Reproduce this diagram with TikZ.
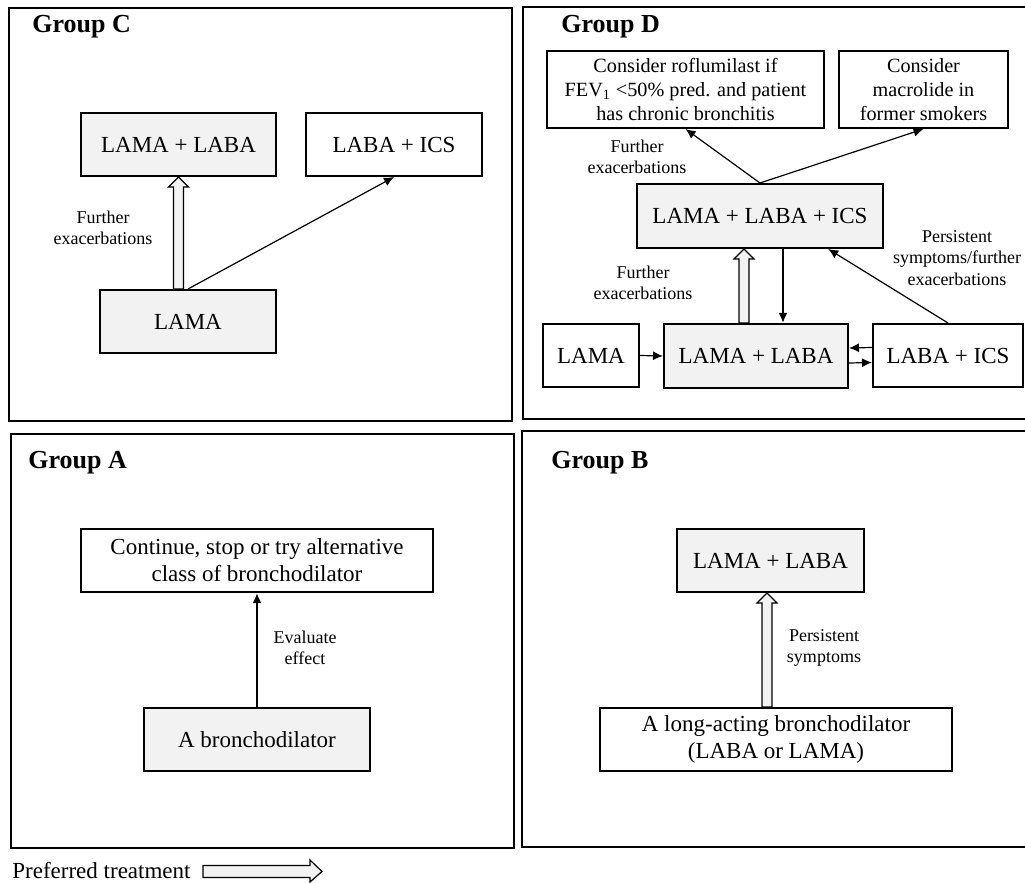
\documentclass[tikz,border=0pt]{standalone}
\usepackage{fontspec}
\setmainfont{Liberation Serif}
\usetikzlibrary{calc,arrows.meta}
\definecolor{boxgray}{HTML}{F2F2F2}
\tikzstyle{group}=[draw=black,line width=1.1pt]
\tikzstyle{box}=[draw=black,line width=1pt,minimum height=31.5pt,inner sep=0pt,align=center,font=\fontsize{11.5}{13.5}\selectfont]
\tikzstyle{pref}=[box,fill=boxgray]
\tikzstyle{small}=[font=\fontsize{10.1}{12}\selectfont]
\tikzstyle{note}=[align=center,inner sep=0pt,font=\fontsize{9}{10.8}\selectfont]
\tikzstyle{title}=[anchor=base west,inner sep=0pt,font=\fontsize{13}{15}\selectfont\bfseries]
\tikzstyle{link}=[draw=black,line width=0.6pt,-{Latex[length=5pt,width=4.5pt]}]
\tikzstyle{fat}=[draw=black,line width=0.6pt,fill=boxgray]
\newcommand{\fatarrow}[2]{%
  \draw[fat] ($(#1)+(-5,0)$) -- ($(#2)+(-5,10)$) -- ($(#2)+(-10,10)$) -- (#2)
    -- ($(#2)+(10,10)$) -- ($(#2)+(5,10)$) -- ($(#1)+(5,0)$) -- cycle;}
\begin{document}
\begin{tikzpicture}[x=0.5pt,y=-0.5pt]
  \useasboundingbox[fill=white] (0,0) rectangle (1025,883);
  \draw[group] (9,8) rectangle (512,421);
  \draw[group] (523,7) rectangle (1040,419);
  \draw[group] (11,434) rectangle (514,848);
  \draw[group] (522,431) rectangle (1040,847);

  \node[title] (TC) at (32,33) {Group C};
  \node[pref, minimum width=97.5pt] (C1) at (178.5,144.5) {LAMA + LABA};
  \node[box, minimum width=88pt] (C2) at (394,144.5) {LABA + ICS};
  \node[pref, minimum width=88pt] (C3) at (188,321.5) {LAMA};
  \node[note] (N1) at (103,228) {Further\\exacerbations};
  \fatarrow{C1.south |- C3.north}{C1.south}
  \draw[link] (C3.north) -- (C2.south);

  \node[title] (TD) at (561,33) {Group D};
  \node[box, small, minimum width=138.5pt, minimum height=38.5pt] (D1) at (685.5,89.5)
    {Consider roflumilast if\\FEV\textsubscript{1} <50\% pred. and patient\\has chronic bronchitis};
  \node[box, small, minimum width=84.5pt, minimum height=38.5pt] (D2) at (923.5,89.5)
    {Consider\\macrolide in\\former smokers};
  \node[pref, minimum width=123pt, minimum height=32pt] (D3) at (760,216) {LAMA + LABA + ICS};
  \node[box, minimum width=48pt] (D4) at (591,355.5) {LAMA};
  \node[pref, minimum width=92pt, minimum height=32pt] (D5) at (756,356) {LAMA + LABA};
  \node[box, minimum width=75pt] (D6) at (948,355.5) {LABA + ICS};
  \node[note] (N2) at (637,157) {Further\\exacerbations};
  \node[note] (N3) at (643,283) {Further\\exacerbations};
  \node[note] (N4) at (957,258) {Persistent\\symptoms/further\\exacerbations};
  \draw[link] (D3.north) -- (D1.south);
  \draw[link] (D3.north) -- (D2.south);
  \fatarrow{D5.north -| 744,0}{D3.south -| 744,0}
  \draw[link, line width=1pt] (D3.south -| 783,0) -- (D5.north -| 783,0);
  \draw[link] (D6.north) -- ($(D3.south)!0.55!(D3.south east)$);
  \draw[link] (D4.east) -- (D5.west);
  \draw[link] ([yshift=4pt]D6.west) -- ([yshift=4pt]D5.east);
  \draw[link] ([yshift=-3.5pt]D5.east) -- ([yshift=-3.5pt]D6.west);

  \node[title] (TA) at (28,468) {Group A};
  \node[box, minimum width=176pt] (A1) at (257,560.5) {Continue, stop or try alternative\\class of bronchodilator};
  \node[pref, minimum width=113pt] (A2) at (257,739.5) {A bronchodilator};
  \node[note] (N5) at (305,648) {Evaluate\\effect};
  \draw[link, line width=1pt] (A2.north) -- (A1.south);

  \node[title] (TB) at (551,468) {Group B};
  \node[pref, minimum width=93.5pt] (B1) at (770.5,560.5) {LAMA + LABA};
  \node[box, minimum width=176pt] (B2) at (776,739.5) {A long-acting bronchodilator\\(LABA or LAMA)};
  \node[note] (N6) at (824,648) {Persistent\\symptoms};
  \fatarrow{B2.north -| 767,0}{B1.south -| 767,0}

  \node[anchor=base west, inner sep=0pt, font=\fontsize{11.5}{13.5}\selectfont] (LG) at (12,878) {Preferred treatment};
  \draw[fat] (203,865.5) -- (310,865.5) -- (310,860) -- (322,871.5) -- (310,882) -- (310,877.5) -- (203,877.5) -- cycle;
\end{tikzpicture}
\end{document}
